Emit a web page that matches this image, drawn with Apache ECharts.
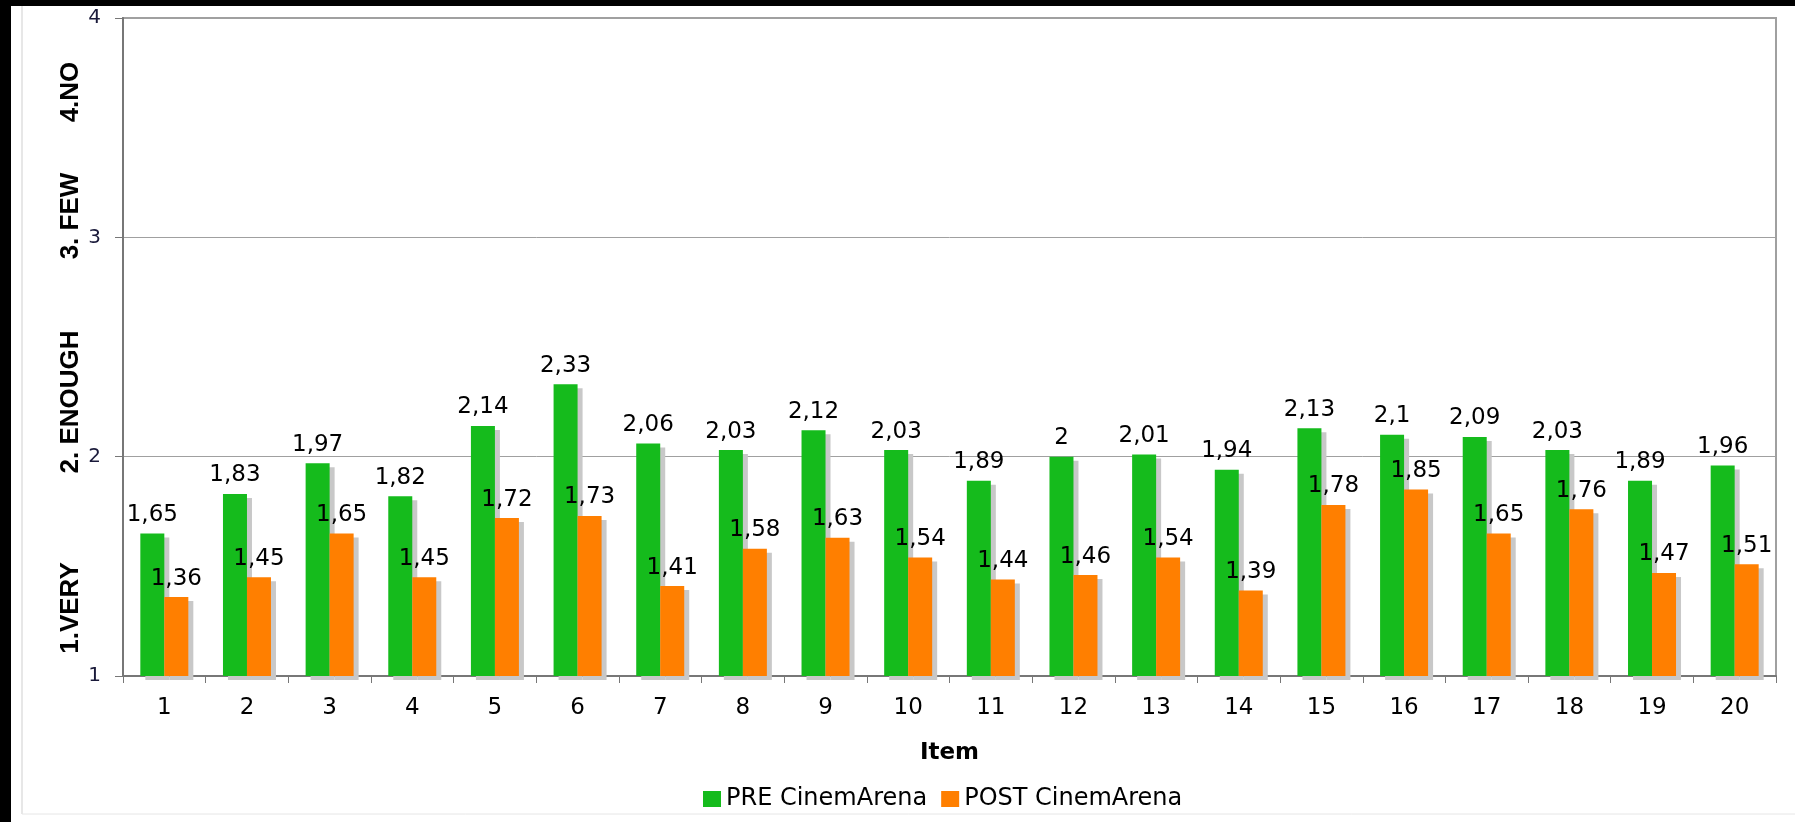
<!DOCTYPE html>
<html>
<head>
<meta charset="utf-8">
<script src="https://cdn.jsdelivr.net/npm/echarts@6/dist/echarts.min.js"></script>
<style>
  html, body { margin: 0; padding: 0; background: #fff; }
  #chart { width: 1795px; height: 822px; }
</style>
</head>
<body>
<div id="chart"></div>
<script>
// Survey items and mean scores before / after CinemArena
const items = ['1','2','3','4','5','6','7','8','9','10','11','12','13','14','15','16','17','18','19','20'];
const preValues = [1.65, 1.83, 1.97, 1.82, 2.14, 2.33, 2.06, 2.03, 2.12, 2.03, 1.89, 2, 2.01, 1.94, 2.13, 2.1, 2.09, 2.03, 1.89, 1.96];
const postValues = [1.36, 1.45, 1.65, 1.45, 1.72, 1.73, 1.41, 1.58, 1.63, 1.54, 1.44, 1.46, 1.54, 1.39, 1.78, 1.85, 1.65, 1.76, 1.47, 1.51];
const seriesNames = ['PRE CinemArena', 'POST CinemArena'];
const scaleLabels = ['1.VERY', '2. ENOUGH', '3. FEW', '4.NO'];

const fmt = v => String(v).replace('.', ',');
const chart = echarts.init(document.getElementById('chart'));

const labelFont = { fontFamily: 'DejaVu Sans', fontSize: 23, color: '#000' };
const barShadow = { shadowColor: '#c8c8c8', shadowBlur: 0, shadowOffsetX: 5, shadowOffsetY: 4 };

// Rotated scale captions placed alongside the value axis
const captionY = [608, 402, 216, 92];
const captions = scaleLabels.map((t, i) => ({
  type: 'text',
  x: 71, y: captionY[i],
  rotation: Math.PI / 2,
  style: {
    text: t, fill: '#000',
    font: 'bold 26px "Liberation Sans", Arial, sans-serif',
    textAlign: 'center', textVerticalAlign: 'middle'
  }
}));

chart.setOption({
  animation: false,
  backgroundColor: '#fff',
  graphic: [
    { type: 'rect', shape: { x: 0, y: 0, width: 1795, height: 6 }, style: { fill: '#000' } },
    { type: 'rect', shape: { x: 0, y: 0, width: 11, height: 822 }, style: { fill: '#000' } },
    { type: 'line', shape: { x1: 22, y1: 6, x2: 22, y2: 814 }, style: { stroke: '#cfcfcf', lineWidth: 1 } },
    { type: 'line', shape: { x1: 22, y1: 814, x2: 1795, y2: 814 }, style: { stroke: '#e6e6e6', lineWidth: 1 } }
  ].concat(captions),
  grid: {
    left: 123, right: 19, top: 18, bottom: 146,
    show: true, borderColor: '#a0a0a0', borderWidth: 2, backgroundColor: '#fff'
  },
  legend: {
    data: seriesNames,
    left: 698, top: 782,
    itemWidth: 18, itemHeight: 16, itemGap: 14,
    icon: 'rect',
    textStyle: { fontFamily: 'DejaVu Sans', fontSize: 24, color: '#000' }
  },
  xAxis: {
    type: 'category',
    data: items,
    name: 'Item',
    nameLocation: 'middle',
    nameGap: 66,
    nameTextStyle: { fontFamily: 'DejaVu Sans', fontSize: 23, fontWeight: 'bold', color: '#000' },
    axisLine: { lineStyle: { color: '#777', width: 2 } },
    axisTick: { show: true, length: 7, lineStyle: { color: '#777' } },
    axisLabel: Object.assign({ margin: 21 }, labelFont)
  },
  yAxis: {
    type: 'value',
    min: 1, max: 4, interval: 1,
    axisLine: { show: true, lineStyle: { color: '#777', width: 2 } },
    axisTick: { show: true, length: 8, lineStyle: { color: '#777' } },
    axisLabel: { margin: 22, fontFamily: 'DejaVu Sans', fontSize: 20, color: '#1a1a3a' },
    splitLine: { lineStyle: { color: '#a0a0a0', width: 1 } }
  },
  series: [
    {
      name: seriesNames[0],
      type: 'bar',
      data: preValues,
      barWidth: 24,
      barGap: '0%',
      itemStyle: Object.assign({ color: '#15bb1c' }, barShadow),
      label: Object.assign({ show: true, position: 'top', distance: 7, formatter: p => fmt(p.value) }, labelFont)
    },
    {
      name: seriesNames[1],
      type: 'bar',
      data: postValues,
      barWidth: 24,
      itemStyle: Object.assign({ color: '#ff7f00' }, barShadow),
      label: Object.assign({ show: true, position: 'top', distance: 7, formatter: p => fmt(p.value) }, labelFont)
    }
  ]
});
</script>
</body>
</html>
